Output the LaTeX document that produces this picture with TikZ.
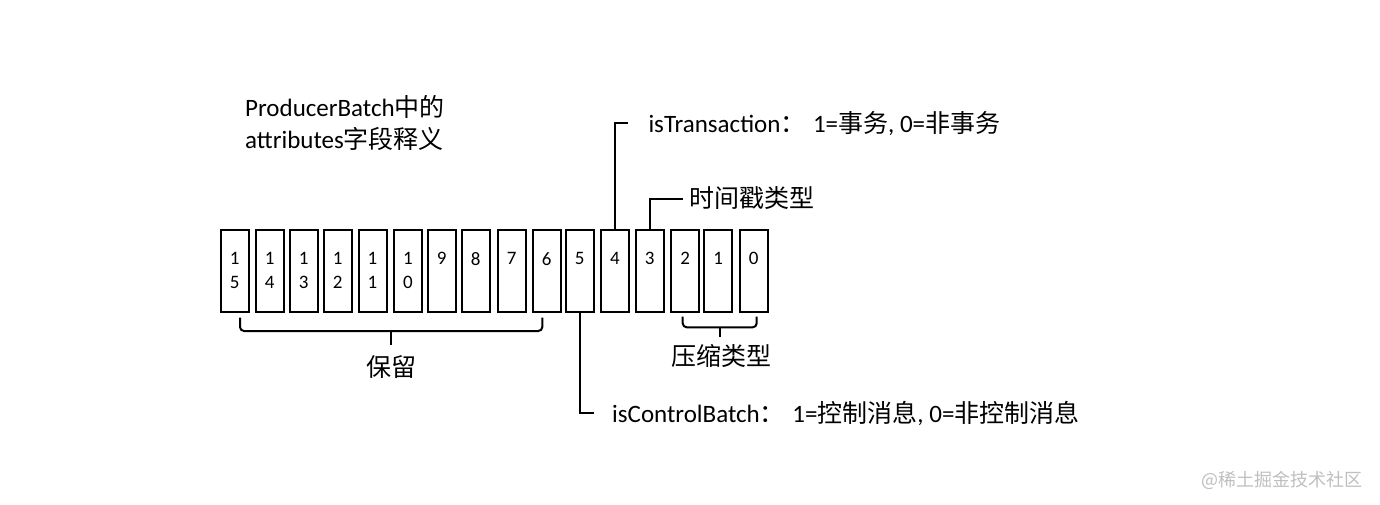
\documentclass[tikz,border=0pt]{standalone}
\usepackage{fontspec}
\setmainfont{Carlito}
\newfontfamily\cjk{Noto Sans CJK SC}
\begin{document}
\begin{tikzpicture}[x=1pt,y=-1pt,
  bit/.style={draw,line width=2pt,minimum width=28pt,minimum height=82pt,inner sep=0pt,align=center,font=\fontsize{19}{24}\selectfont,execute at begin node={\rule{0pt}{18pt}}},
  wire/.style={line width=2pt},
  lbl/.style={font=\fontsize{25}{30}\selectfont,inner sep=0pt}]
\useasboundingbox[fill=white] (0,0) rectangle (1380,504);

% title
\node[lbl,anchor=base west] (t1) at (245,116.7) {ProducerBatch{\cjk 中的}};
\node[lbl,anchor=base west] (t2) at (245,148.3) {attributes{\cjk 字段释义}};

% bit boxes
\node[bit] (b15) at (234.7,270.8) {1\\5};
\node[bit] (b14) at (269.7,270.8) {1\\4};
\node[bit] (b13) at (303.7,270.8) {1\\3};
\node[bit] (b12) at (337.7,270.8) {1\\2};
\node[bit] (b11) at (372.5,270.8) {1\\1};
\node[bit] (b10) at (408.0,270.8) {1\\0};
\node[bit] (b9) at (441.7,270.8) {9\\\phantom{0}};
\node[bit] (b8) at (475.7,270.8) {8\\\phantom{0}};
\node[bit] (b7) at (511.7,270.8) {7\\\phantom{0}};
\node[bit] (b6) at (546.8,270.8) {6\\\phantom{0}};
\node[bit] (b5) at (579.8,270.8) {5\\\phantom{0}};
\node[bit] (b4) at (615.0,270.8) {4\\\phantom{0}};
\node[bit] (b3) at (649.7,270.8) {3\\\phantom{0}};
\node[bit] (b2) at (685.3,270.8) {2\\\phantom{0}};
\node[bit] (b1) at (718.3,270.8) {1\\\phantom{0}};
\node[bit] (b0) at (753.8,270.8) {0\\\phantom{0}};

% labels
\node[lbl,anchor=west,inner xsep=20pt] (ltx) at (628.3,123.3) {isTransaction{\cjk ：}\hspace{0.3em}1={\cjk 事务}, 0={\cjk 非事务}};
\node[lbl,anchor=west,inner xsep=6pt] (lts) at (683.3,198.5) {{\cjk 时间戳类型}};
\node[lbl,anchor=west,inner xsep=18pt] (lcb) at (594,413) {isControlBatch{\cjk ：}\hspace{0.3em}1={\cjk 控制消息}, 0={\cjk 非控制消息}};
\node[lbl] (lres) at (391,367) {{\cjk 保留}};
\node[lbl] (lcmp) at (721,355.5) {{\cjk 压缩类型}};

% connectors
\draw[wire] (b4.north) |- (ltx.west);
\draw[wire] (b3.north) |- (lts.west);
\draw[wire] (b5.south) |- (lcb.west);

% braces
\coordinate (rsL) at (240,317.5);
\coordinate (rsR) at (542.3,317.5);
\coordinate (rsM) at (391,331);
\draw[wire,rounded corners=4pt] (rsL) |- (rsM) -| (rsR);
\draw[wire] (rsM) -- ++(0,14);

\coordinate (cpL) at (682.7,316.7);
\coordinate (cpR) at (756.7,316.7);
\coordinate (cpM) at (719.7,327.3);
\draw[wire,rounded corners=4pt] (cpL) |- (cpM) -| (cpR);
\draw[wire] (cpM) -- ++(0,9.4);

% watermark
\node[anchor=east,inner sep=0pt,text=black!25,font=\fontsize{18}{20}\selectfont\cjk] (wm) at (1363,480) {@稀土掘金技术社区};
\end{tikzpicture}
\end{document}
